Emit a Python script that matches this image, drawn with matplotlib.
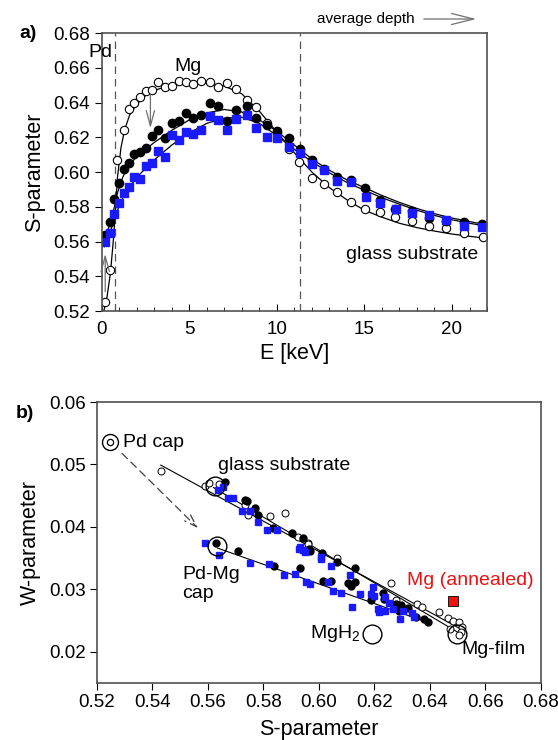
import matplotlib
matplotlib.use("Agg")
import matplotlib.pyplot as plt
from matplotlib.ticker import MultipleLocator, FormatStrFormatter

plt.rcParams['font.family'] = ['Liberation Sans', 'DejaVu Sans']
plt.rcParams['mathtext.default'] = 'regular'

# ---- panel a: S vs E ----
E_open = [0.19, 0.47, 0.89, 1.27, 1.56, 1.86, 2.19, 2.51, 2.89, 3.23, 3.62, 4.0, 4.42, 4.82,
          5.23, 5.67, 6.19, 6.66, 7.14, 7.67, 8.29, 8.8, 9.41, 10.02, 10.67, 11.29, 12.0,
          12.72, 13.46, 14.25, 15.05, 15.9, 16.76, 17.71, 18.66, 19.66, 20.66, 21.75]
S_open = [0.5254, 0.5436, 0.607, 0.624, 0.636, 0.6395, 0.643, 0.6468, 0.6472, 0.652, 0.649,
          0.6495, 0.6525, 0.652, 0.6507, 0.6525, 0.652, 0.6487, 0.651, 0.6477, 0.6414, 0.6372,
          0.628, 0.6223, 0.613, 0.606, 0.5964, 0.593, 0.5883, 0.583, 0.579, 0.5768, 0.574,
          0.572, 0.569, 0.5676, 0.5647, 0.5624]

E_black = [0.19, 0.47, 0.72, 0.99, 1.28, 1.58, 1.86, 2.19, 2.51, 2.89, 3.23, 3.62, 4.0, 4.42,
           4.82, 5.23, 5.67, 6.19, 6.66, 7.14, 7.67, 8.29, 8.8, 9.41, 10.0, 10.67, 11.33, 12.0,
           12.72, 13.46, 14.25, 15.06, 15.9, 16.76, 17.71, 18.66, 19.66, 20.66, 21.73]
S_black = [0.5637, 0.571, 0.5843, 0.5935, 0.602, 0.6049, 0.6104, 0.6117, 0.6136, 0.6207,
           0.6242, 0.6197, 0.628, 0.6295, 0.6341, 0.631, 0.6328, 0.640, 0.638, 0.6295, 0.6357,
           0.638, 0.631, 0.627, 0.6238, 0.6197, 0.6135, 0.6072, 0.6015, 0.5973, 0.5954, 0.5909,
           0.5841, 0.579, 0.5774, 0.5738, 0.572, 0.571, 0.5699]

E_blue = [0.19, 0.47, 0.72, 0.99, 1.29, 1.58, 1.86, 2.19, 2.51, 2.89, 3.23, 3.62, 4.0, 4.42,
          4.82, 5.23, 5.67, 6.19, 6.66, 7.14, 7.67, 8.29, 8.8, 9.41, 10.0, 10.67, 11.33, 12.0,
          12.72, 13.46, 14.25, 15.08, 15.9, 16.8, 17.71, 18.66, 19.66, 20.66, 21.71]
S_blue = [0.5599, 0.5647, 0.5757, 0.582, 0.5877, 0.5912, 0.597, 0.596, 0.6032, 0.6052, 0.6123,
          0.6085, 0.6214, 0.6185, 0.6228, 0.622, 0.6243, 0.6324, 0.6297, 0.6243, 0.6304,
          0.6329, 0.6252, 0.6201, 0.6197, 0.6146, 0.6111, 0.6045, 0.601, 0.5948, 0.594, 0.5858,
          0.582, 0.5786, 0.5763, 0.5753, 0.5725, 0.5691, 0.5685]

# fitted profiles
E_fit_open = [0.12, 0.3, 0.5, 0.7, 0.9, 1.1, 1.3, 1.6, 2.0, 2.5, 3.0, 4.0, 5.0, 6.0, 7.0, 8.0,
              9.0, 10.0, 11.0, 12.0, 13.0, 14.0, 15.0, 16.0, 17.0, 18.0, 19.0, 20.0, 21.0, 22.0]
S_fit_open = [0.520, 0.528, 0.542, 0.565, 0.597, 0.614, 0.624, 0.633, 0.639, 0.644, 0.647,
              0.650, 0.651, 0.651, 0.6495, 0.645, 0.635, 0.623, 0.611, 0.600, 0.591, 0.584,
              0.578, 0.574, 0.5705, 0.568, 0.566, 0.5643, 0.563, 0.5618]
E_fit = [0.15, 0.3, 0.5, 0.7, 0.9, 1.2, 1.5, 2.0, 2.5, 3.0, 4.0, 5.0, 6.0, 7.0, 8.0, 9.0, 10.0,
         11.0, 12.0, 13.0, 14.0, 15.0, 16.0, 17.0, 18.0, 19.0, 20.0, 21.0, 22.0]
S_fit_black = [0.560, 0.565, 0.571, 0.579, 0.588, 0.597, 0.603, 0.609, 0.613, 0.617, 0.624,
               0.630, 0.634, 0.636, 0.6345, 0.630, 0.6235, 0.6155, 0.6075, 0.601, 0.5955,
               0.591, 0.5865, 0.5825, 0.579, 0.576, 0.5735, 0.5715, 0.5695]
S_fit_blue = [0.557, 0.561, 0.566, 0.572, 0.578, 0.585, 0.590, 0.597, 0.602, 0.607, 0.6155,
              0.6225, 0.628, 0.631, 0.6315, 0.628, 0.621, 0.613, 0.606, 0.5995, 0.594, 0.5895,
              0.5852, 0.5815, 0.578, 0.575, 0.5725, 0.5705, 0.5688]

E_bounds = [0.76, 11.3]

# ---- panel b: W vs S ----
Sb_open = [0.543, 0.559, 0.5605, 0.564, 0.5733, 0.5745, 0.5823, 0.5877, 0.5925, 0.5961,
           0.5959, 0.6066, 0.6258, 0.6277, 0.6355, 0.6372, 0.6432, 0.6465, 0.6484, 0.6503,
           0.6516, 0.6471, 0.651, 0.6503]
Wb_open = [0.049, 0.0466, 0.0470, 0.0468, 0.0435, 0.0419, 0.0418, 0.0422, 0.0384, 0.0374,
           0.0372, 0.035, 0.031, 0.0283, 0.0276, 0.0272, 0.0264, 0.0254, 0.0249, 0.0248,
           0.0239, 0.0237, 0.0232, 0.0227]

Sb_black = [0.5661, 0.5733, 0.5739, 0.5769, 0.5781, 0.5835, 0.5902, 0.5944, 0.5965, 0.601,
            0.563, 0.5707, 0.5839, 0.5933, 0.6013, 0.6045, 0.6103, 0.6116, 0.6129, 0.6129,
            0.6187, 0.6232, 0.6236, 0.6277, 0.629, 0.6297, 0.632, 0.6348, 0.638, 0.6394,
            0.6065, 0.5968]
Wb_black = [0.0472, 0.0443, 0.0441, 0.0431, 0.0419, 0.0399, 0.0391, 0.0382, 0.0364, 0.0358,
            0.0375, 0.0362, 0.0337, 0.0335, 0.0314, 0.0314, 0.031, 0.0306, 0.0334, 0.0311,
            0.0283, 0.0294, 0.0285, 0.0277, 0.0266, 0.0275, 0.027, 0.0256, 0.0252, 0.0248,
            0.0344, 0.0362]

Sb_blue = [0.5637, 0.5653, 0.5673, 0.5691, 0.5721, 0.5753, 0.5781, 0.5811, 0.5847, 0.5932,
           0.5944, 0.6007, 0.559, 0.5641, 0.5752, 0.5819, 0.5874, 0.5914, 0.5955, 0.5968,
           0.5929, 0.5948, 0.6006, 0.6045, 0.6032, 0.6052, 0.6081, 0.611, 0.612, 0.6148,
           0.6187, 0.6197, 0.6194, 0.6213, 0.6217, 0.6226, 0.6239, 0.6252, 0.6239, 0.6265,
           0.6293, 0.6303, 0.6335, 0.6342]
Wb_blue = [0.0459, 0.0464, 0.0446, 0.0446, 0.0426, 0.0426, 0.0408, 0.0395, 0.0395, 0.0368,
           0.0363, 0.0352, 0.0375, 0.0355, 0.0342, 0.03405, 0.0323, 0.0325, 0.0311, 0.0309,
           0.0365, 0.036, 0.0349, 0.0337, 0.0311, 0.0297, 0.0294, 0.0323, 0.0272, 0.0292,
           0.0292, 0.029, 0.0304, 0.0269, 0.0264, 0.0266, 0.0266, 0.0278, 0.0288, 0.0269,
           0.0252, 0.0266, 0.0262, 0.0256]

# straight fits through the two branches
S_line1 = [0.543, 0.6525]
W_line1 = [0.0499, 0.0233]
S_line2 = [0.562, 0.6505]
W_line2 = [0.0463, 0.0230]
S_line3 = [0.5635, 0.6405]
W_line3 = [0.0366, 0.0245]

# reference states (large circles)
S_ref = [0.5625, 0.5631, 0.619, 0.6499]
W_ref = [0.0465, 0.0370, 0.0229, 0.0229]
S_pdcap, W_pdcap = 0.5247, 0.0536
S_annealed, W_annealed = 0.6484, 0.0281

fig = plt.figure(figsize=(5.58, 7.40), dpi=100)

FRAME = '#505050'
BLUE = '#1a1aff'
TICK = 13.5
LABEL = 15.5
NOTE = 14

# ================= a) =================
ax = fig.add_axes([0.1823, 0.5797, 0.6905, 0.3757])
for x in E_bounds:
    ax.axvline(x, color='#555555', lw=0.9, ls=(0, (6, 4)))
ax.plot(E_fit_open, S_fit_open, color='black', lw=0.9)
ax.plot(E_fit, S_fit_black, color='black', lw=0.9)
ax.plot(E_fit, S_fit_blue, color='black', lw=0.9)
ax.plot(E_open, S_open, 'o', ms=6, mfc='white', mec='black', mew=0.8)
ax.plot(E_black, S_black, 'o', ms=6, mfc='black', mec='black')
ax.plot(E_blue, S_blue, 's', ms=5.5, mfc=BLUE, mec=BLUE)

ax.set_xlim(0, 22)
ax.set_ylim(0.52, 0.68)
ax.xaxis.set_major_locator(MultipleLocator(5))
ax.xaxis.set_minor_locator(MultipleLocator(1))
ax.yaxis.set_major_locator(MultipleLocator(0.02))
ax.yaxis.set_major_formatter(FormatStrFormatter('%.2f'))
ax.tick_params(axis='x', which='both', direction='in', labelsize=TICK, pad=7)
ax.tick_params(axis='x', which='major', length=5)
ax.tick_params(axis='x', which='minor', length=3)
ax.tick_params(axis='y', direction='out', length=5, labelsize=TICK)
for s in ax.spines.values():
    s.set_color(FRAME)
    s.set_linewidth(1.2)
ax.set_xlabel('E [keV]', fontsize=LABEL, labelpad=4)
ax.set_ylabel('S-parameter', fontsize=LABEL, labelpad=6)

ax.text(0.62, 0.669, 'Pd', fontsize=NOTE, ha='right', va='center')
ax.text(4.95, 0.6605, 'Mg', fontsize=NOTE, ha='center', va='center')
ax.text(21.5, 0.5528, 'glass substrate', fontsize=NOTE, ha='right', va='center')

arrow_kw = dict(arrowstyle='->,head_length=1.1,head_width=0.3', color='#707070', lw=0.9)
ax.annotate('', xy=(2.78, 0.6236), xytext=(2.78, 0.6462), arrowprops=arrow_kw)
ax.annotate('', xy=(0.2, 0.5545), xytext=(0.2, 0.5295), arrowprops=arrow_kw)

fig.text(28 / 558, 1 - 34 / 740, 'a)', fontsize=14, fontweight='bold', ha='center', va='center')
fig.text(366 / 558, 1 - 19 / 740, 'average depth', fontsize=11, ha='center', va='center')
fig.add_artist(matplotlib.patches.FancyArrowPatch(
    (421 / 558, 1 - 19 / 740), (479 / 558, 1 - 19 / 740), transform=fig.transFigure,
    arrowstyle='->,head_length=1.6,head_width=0.4', mutation_scale=10,
    color='#707070', lw=0.9))

# ================= b) =================
bx = fig.add_axes([0.1738, 0.0770, 0.7957, 0.3797])
bx.plot(S_line1, W_line1, color='black', lw=0.8)
bx.plot(S_line2, W_line2, color='black', lw=0.8)
bx.plot(S_line3, W_line3, color='black', lw=0.8)
bx.plot(Sb_open, Wb_open, 'o', ms=5, mfc='white', mec='black', mew=0.7)
bx.plot(Sb_black, Wb_black, 'o', ms=5, mfc='black', mec='black')
bx.plot(Sb_blue, Wb_blue, 's', ms=4.8, mfc=BLUE, mec=BLUE)
bx.plot(S_ref, W_ref, 'o', ms=13.5, mfc='none', mec='black', mew=1.0)
bx.plot([S_pdcap], [W_pdcap], 'o', ms=11.5, mfc='none', mec='black', mew=1.0, clip_on=False)
bx.plot([S_pdcap], [W_pdcap], 'o', ms=4.5, mfc='none', mec='black', mew=0.9, clip_on=False)
bx.plot([S_annealed], [W_annealed], 's', ms=6.5, mfc='#ee1111', mec='black', mew=0.6)

bx.annotate('', xy=(0.5571, 0.0395), xytext=(0.5283, 0.0521),
            arrowprops=dict(arrowstyle='->,head_length=0.9,head_width=0.3', color='#404040',
                            lw=0.9, ls=(0, (6, 4))))

bx.set_xlim(0.52, 0.68)
bx.set_ylim(0.015, 0.06)
bx.xaxis.set_major_locator(MultipleLocator(0.02))
bx.xaxis.set_major_formatter(FormatStrFormatter('%.2f'))
bx.yaxis.set_major_locator(MultipleLocator(0.01))
bx.yaxis.set_major_formatter(FormatStrFormatter('%.2f'))
bx.tick_params(direction='out', length=5, labelsize=TICK, pad=3)
for s in bx.spines.values():
    s.set_color(FRAME)
    s.set_linewidth(1.2)
bx.set_xlabel('S-parameter', fontsize=LABEL, labelpad=6)
bx.set_ylabel('W-parameter', fontsize=LABEL, labelpad=6)

bx.text(0.5293, 0.0536, 'Pd cap', fontsize=NOTE, ha='left', va='center')
bx.text(0.5635, 0.0499, 'glass substrate', fontsize=NOTE, ha='left', va='center')
bx.text(0.5506, 0.0309, 'Pd-Mg\ncap', fontsize=NOTE, ha='left', va='center', linespacing=1.15)
bx.text(0.6544, 0.0314, 'Mg (annealed)', fontsize=NOTE, ha='center', va='center', color='#ee1111')
bx.text(0.6147, 0.0229, 'MgH$_2$', fontsize=NOTE, ha='right', va='center')
bx.text(0.6512, 0.0203, 'Mg-film', fontsize=NOTE, ha='left', va='center')

fig.text(25 / 558, 1 - 413 / 740, 'b)', fontsize=14, fontweight='bold', ha='center', va='center')

fig.savefig('out.png', dpi=100)
